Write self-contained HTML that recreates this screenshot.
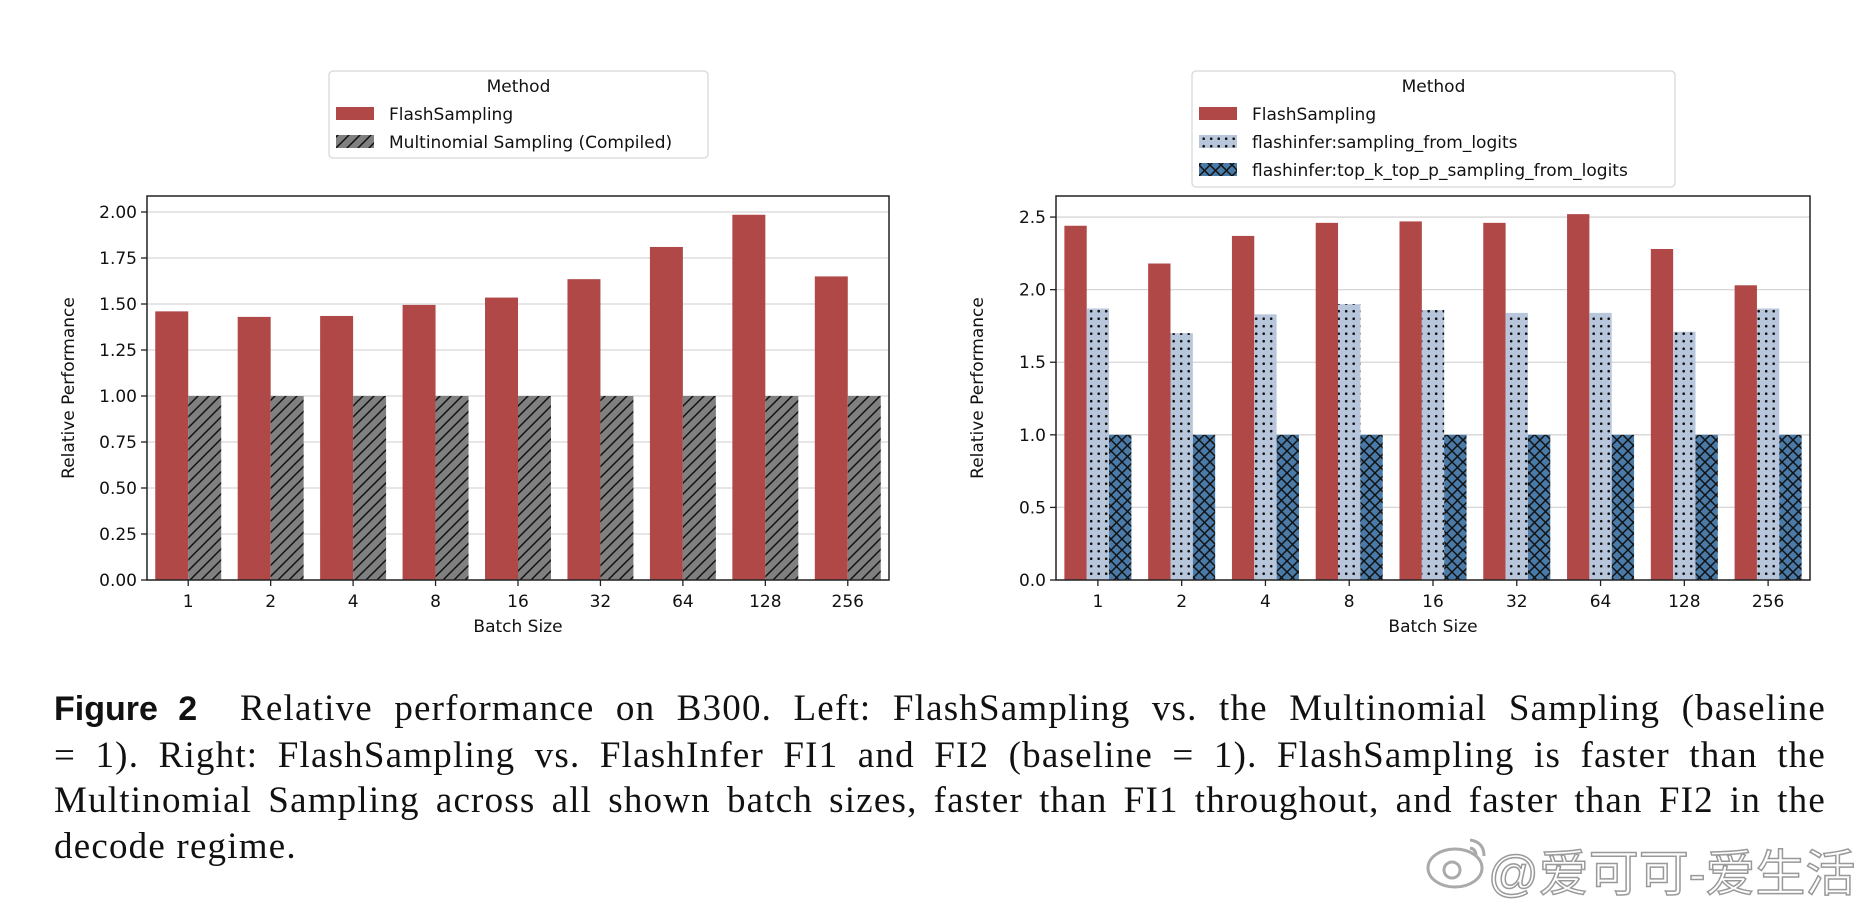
<!DOCTYPE html>
<html><head><meta charset="utf-8">
<style>
html,body{margin:0;padding:0;background:#fff;}
body{width:1876px;height:912px;position:relative;overflow:hidden;}
svg{position:absolute;left:0;top:0;}
.cap{position:absolute;left:54px;top:686px;width:1772px;font-family:"Liberation Serif",serif;font-size:37px;letter-spacing:1.2px;line-height:45.5px;color:#111;}
.cap span{display:block;text-align:justify;text-align-last:justify;white-space:nowrap;}
.cap span.last{text-align-last:left;}
.cap b{font-family:"Liberation Sans",sans-serif;font-size:34px;letter-spacing:0;}
.wm{position:absolute;left:1488px;top:834px;font-family:"Liberation Sans","Noto Sans CJK SC",sans-serif;font-size:50px;color:#fff;-webkit-text-stroke:1.5px #999;}
</style></head><body>
<svg id="chart" width="1876" height="912" font-family="DejaVu Sans, Liberation Sans, sans-serif">
<defs>
<pattern id="diag" width="11" height="11" patternUnits="userSpaceOnUse"><rect width="11" height="11" fill="#808080"/><path d="M-2,13 L13,-2 M-2,2 L2,-2 M9,13 L13,9" stroke="#111" stroke-width="1.5"/></pattern>
<pattern id="dots" width="7.5" height="7.5" patternUnits="userSpaceOnUse"><rect width="7.5" height="7.5" fill="#b8c6dc"/><circle cx="3.7" cy="3.7" r="1.3" fill="#111"/></pattern>
<pattern id="cross" width="11" height="11" patternUnits="userSpaceOnUse"><rect width="11" height="11" fill="#4a7ba8"/><path d="M0,0 L11,11 M11,0 L0,11" stroke="#111" stroke-width="1.5"/></pattern>
</defs>
<g id="left"></g><g id="right"></g>
<g fill="none" stroke="#aaa" stroke-width="3">
<ellipse cx="1455" cy="868" rx="27" ry="19"/><circle cx="1452" cy="870" r="8"/><path d="M1470,840 q14,2 14,16 M1470,848 q6,1 6,8"/>
</g>
</svg>
<div class="cap">
<span><b>Figure 2</b>&nbsp; Relative performance on B300. Left: FlashSampling vs. the Multinomial Sampling (baseline</span>
<span>= 1). Right: FlashSampling vs. FlashInfer FI1 and FI2 (baseline = 1). FlashSampling is faster than the</span>
<span>Multinomial Sampling across all shown batch sizes, faster than FI1 throughout, and faster than FI2 in the</span>
<span class="last">decode regime.</span>
</div>
<div class="wm">@爱可可-爱生活</div>
<script>
const categories = ["1","2","4","8","16","32","64","128","256"];
const leftFlash = [1.46,1.43,1.435,1.495,1.535,1.635,1.81,1.985,1.65];
const leftMulti = [1,1,1,1,1,1,1,1,1];
const rightFlash = [2.44,2.18,2.37,2.46,2.47,2.46,2.52,2.28,2.03];
const rightFI1 = [1.87,1.70,1.83,1.90,1.86,1.84,1.84,1.71,1.87];
const rightFI2 = [1,1,1,1,1,1,1,1,1];
const leftTicks = ["0.00","0.25","0.50","0.75","1.00","1.25","1.50","1.75","2.00"];
const rightTicks = ["0.0","0.5","1.0","1.5","2.0","2.5"];
const NS="http://www.w3.org/2000/svg";
function mk(p,tag,at,txt){const e=document.createElementNS(NS,tag);for(const k in at)e.setAttribute(k,at[k]);if(txt!==undefined)e.textContent=txt;p.appendChild(e);return e;}
function panel(g,ax,ticks,series,fills,names,legend){
  const L=ax.l,R=ax.r,T=ax.t,B=ax.b,n=categories.length;
  const sx=i=>L+(i+0.5)*(R-L)/n;
  const sy=v=>B-v/ax.ymax*(B-T);
  const step=(R-L)/n, bw=0.8*step/series.length;
  ticks.forEach(t=>{const y=sy(parseFloat(t));
    const gl=mk(g,"line",{x1:L,x2:R,y1:y,y2:y,stroke:"#d6d6d6","stroke-width":1.3});
    
    
    mk(g,"line",{x1:L-6,x2:L,y1:y,y2:y,stroke:"#222","stroke-width":1.3});
    const tl=mk(g,"text",{x:L-10,y:y+6,"text-anchor":"end","font-size":17,fill:"#111"},t);
    
    
  });
  series.forEach((s,si)=>s.forEach((v,i)=>{
    const x=sx(i)-0.4*step+si*bw;
    const r=mk(g,"rect",{x:x,y:sy(v),width:bw,height:B-sy(v),fill:fills[si]});
    
    
  }));
  categories.forEach((c,i)=>{
    mk(g,"line",{x1:sx(i),x2:sx(i),y1:B,y2:B+6,stroke:"#222","stroke-width":1.3});
    const tl=mk(g,"text",{x:sx(i),y:B+27,"text-anchor":"middle","font-size":17,fill:"#111"},c);
    
    
  });
  const fr=mk(g,"rect",{x:L,y:T,width:R-L,height:B-T,fill:"none",stroke:"#222","stroke-width":1.5});
  
  
  const xt=mk(g,"text",{x:(L+R)/2,y:B+52,"text-anchor":"middle","font-size":17,fill:"#111"},"Batch Size");
  
  
  const yx=L-73,yy=(T+B)/2;
  const yt=mk(g,"text",{x:yx,y:yy,"text-anchor":"middle","font-size":17,fill:"#111",transform:"rotate(-90 "+yx+" "+yy+")"},"Relative Performance");
  
  
  const lg=mk(g,"g",{});
  
  
  mk(lg,"rect",{x:legend.x,y:legend.y,width:legend.w,height:legend.h,rx:4,fill:"#fff",stroke:"#d8d8d8","stroke-width":1.3});
  mk(lg,"text",{x:legend.x+legend.w/2,y:legend.y+21,"text-anchor":"middle","font-size":17,fill:"#111"},"Method");
  legend.labels.forEach((lab,i)=>{
    const y=legend.y+28+i*28;
    const e=mk(lg,"g",{});
    
    
    mk(e,"rect",{x:legend.x+7,y:y+8,width:38,height:13,fill:fills[i]});
    mk(e,"text",{x:legend.x+60,y:y+21,"font-size":17,fill:"#111"},lab);
  });
}
panel(document.getElementById("left"),{l:147,r:889,t:196,b:580,ymax:2.087},leftTicks,[leftFlash,leftMulti],["#b04848","url(#diag)"],["flash","multinomial"],
 {x:329,y:71,w:379,h:87,labels:["FlashSampling","Multinomial Sampling (Compiled)"]});
panel(document.getElementById("right"),{l:1056,r:1810,t:196,b:580,ymax:2.645},rightTicks,[rightFlash,rightFI1,rightFI2],["#b04848","url(#dots)","url(#cross)"],["flash","fi1","fi2"],
 {x:1192,y:71,w:483,h:116,labels:["FlashSampling","flashinfer:sampling_from_logits","flashinfer:top_k_top_p_sampling_from_logits"]});
</script>
</body></html>
